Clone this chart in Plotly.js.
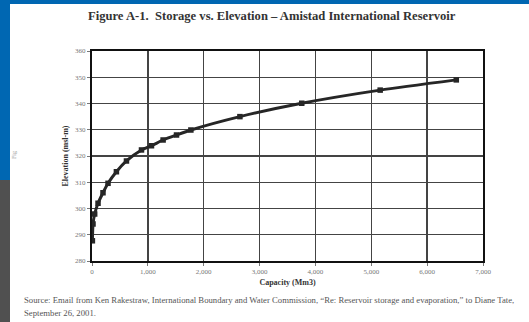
<!DOCTYPE html>
<html><head><meta charset="utf-8">
<script src="https://cdn.plot.ly/plotly-3.0.1.min.js"></script>
<style>
html,body{margin:0;padding:0;background:#fff;}
#wrap{position:relative;width:529px;height:322px;overflow:hidden;}
#chart{position:absolute;left:0;top:0;width:529px;height:322px;}
.band{position:absolute;z-index:5;}
</style></head>
<body><div id="wrap"><div id="chart"></div>
<div class="band" style="left:0;top:0;width:529px;height:4px;background:#0067b2;"></div>
<div class="band" style="left:0;top:0;width:10px;height:180px;background:#0067b2;"></div>
<div class="band" style="left:0;top:180px;width:10px;height:142px;background:#505050;"></div>
</div>
<script>
// Capacity (Mm3) and elevation (msl-m)
const capacity = [7, 18, 48, 108, 197, 287, 437, 617, 886, 1065, 1273, 1513, 1770, 2648, 3755, 5159, 6522];
const elevation = [287.7, 294.1, 297.9, 302.0, 306.0, 309.6, 314.0, 318.1, 322.3, 323.9, 326.1, 328.0, 329.9, 335.0, 340.1, 345.1, 349.0];
const xTickVals = [0, 1000, 2000, 3000, 4000, 5000, 6000, 7000];
const xTickText = ["0", "1,000", "2,000", "3,000", "4,000", "5,000", "6,000", "7,000"];
const yTickVals = [280, 290, 300, 310, 320, 330, 340, 350, 360];

const serif = "Liberation Serif, Times New Roman, serif";
const trace = {
  x: capacity, y: elevation, type: "scatter", mode: "lines+markers",
  line: {color: "#262626", width: 3, shape: "spline", smoothing: 0.6},
  marker: {symbol: "square", size: 5.5, color: "#262626"},
  hoverinfo: "skip", showlegend: false
};
const layout = {
  width: 529, height: 322,
  margin: {l: 92, r: 46, t: 51, b: 61},
  paper_bgcolor: "#ffffff", plot_bgcolor: "#ffffff",
  font: {family: serif, color: "#444"},
  xaxis: {
    range: [0, 7000], tickvals: xTickVals, ticktext: xTickText,
    showgrid: true, gridcolor: "#444", gridwidth: 1.3,
    showline: true, linecolor: "#111", linewidth: 2, mirror: true,
    ticks: "outside", ticklen: 3, tickcolor: "#777",
    tickfont: {size: 7, family: serif, color: "#777"},
    zeroline: false,
    title: {text: "<b>Capacity (Mm3)</b>", font: {size: 8, family: serif, color: "#333"}, standoff: 4}
  },
  yaxis: {
    range: [280, 360], tickvals: yTickVals,
    showgrid: true, gridcolor: "#444", gridwidth: 1.3,
    showline: true, linecolor: "#111", linewidth: 2, mirror: true,
    ticks: "outside", ticklen: 3, tickcolor: "#777",
    tickfont: {size: 7, family: serif, color: "#777"},
    zeroline: false,
    title: {text: "<b>Elevation (msl-m)</b>", font: {size: 8, family: serif, color: "#333"}, standoff: 5}
  },
  annotations: [
    {xref: "paper", yref: "paper", x: (272 - 92) / 391, y: 1 + (51 - 16) / 210, xanchor: "center", yanchor: "middle",
     text: "<b>Figure A-1.  Storage vs. Elevation \u2013 Amistad International Reservoir</b>",
     showarrow: false, font: {size: 12.6, family: serif, color: "#333"}},
    {xref: "paper", yref: "paper", x: (22 - 92) / 391, y: -(300 - 261) / 210, xanchor: "left", yanchor: "middle",
     text: "Source: Email from Ken Rakestraw, International Boundary and Water Commission, \u201cRe: Reservoir storage and evaporation,\u201d to Diane Tate,",
     showarrow: false, font: {size: 8.7, family: serif, color: "#555"}},
    {xref: "paper", yref: "paper", x: (22 - 92) / 391, y: -(313 - 261) / 210, xanchor: "left", yanchor: "middle",
     text: "September 26, 2001.",
     showarrow: false, font: {size: 8.7, family: serif, color: "#555"}},
    {xref: "paper", yref: "paper", x: (14 - 92) / 391, y: 1 - (155 - 51) / 210, xanchor: "center", yanchor: "middle",
     text: "Fig", textangle: -90,
     showarrow: false, font: {size: 6, family: serif, color: "#999"}}
  ]
};
Plotly.newPlot("chart", [trace], layout, {staticPlot: true, displayModeBar: false});
</script></body></html>
